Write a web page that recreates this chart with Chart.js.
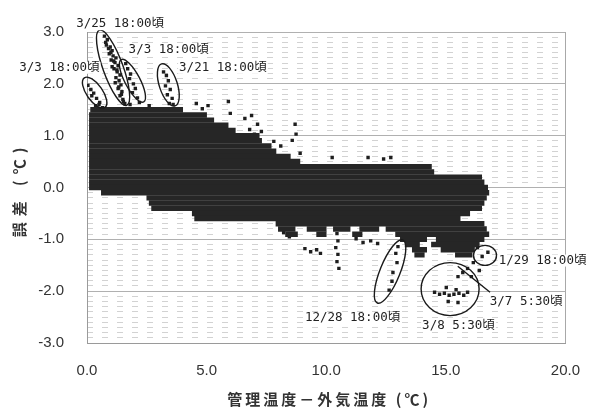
<!DOCTYPE html>
<html>
<head>
<meta charset="utf-8">
<script src="https://cdn.jsdelivr.net/npm/chart.js@4/dist/chart.umd.min.js"></script>
<style>
  html, body { margin: 0; padding: 0; background: #fff; }
  #wrap { width: 599px; height: 410px; }
</style>
</head>
<body>
<div id="wrap"><canvas id="c" width="599" height="410"></canvas></div>
<script>
// Tick values
const xTickValues = [0, 5, 10, 15, 20];
const yTickValues = [-3, -2, -1, 0, 1, 2, 3];

// Dense band of readings: one row per 0.1 ℃ error level, spanning [from, to] on the x axis
const bandLevel = [1.5, 1.4, 1.3, 1.2, 1.1, 1.0, 0.9, 0.8, 0.7, 0.6, 0.5, 0.4, 0.3, 0.2, 0.1, 0.0,
  -0.1, -0.2, -0.3, -0.4, -0.5, -0.6, -0.7,
  -0.8, -0.8, -0.8, -0.8, -0.8,
  -0.9, -0.9, -0.9, -0.9,
  -1.0, -1.0, -1.1, -1.1, -1.2, -1.2, -1.3, -1.3];
const bandFrom = [0.15, 0.1, 0.1, 0.1, 0.1, 0.1, 0.1, 0.1, 0.1, 0.1, 0.1, 0.1, 0.1, 0.1, 0.1, 0.1,
  0.6, 2.5, 2.6, 2.7, 4.4, 4.5, 7.9,
  8.0, 9.2, 10.3, 11.4, 12.5,
  8.3, 9.6, 11.1, 12.9,
  13.1, 14.6, 13.3, 14.4, 13.6, 14.8, 13.7, 15.4];
const bandTo = [4.0, 5.0, 5.3, 5.9, 6.2, 7.2, 7.3, 7.7, 7.9, 8.5, 8.9, 14.4, 14.5, 16.5, 16.6, 16.75,
  16.8, 16.7, 16.6, 16.5, 16.0, 15.6, 16.6,
  8.7, 10.0, 11.0, 12.2, 16.7,
  8.8, 10.0, 11.5, 16.8,
  14.2, 16.6, 13.9, 16.4, 14.2, 16.2, 14.1, 16.1];

// Isolated readings outside the band
const outX = [
  0.73, 0.85, 0.81, 0.97, 1.05, 0.93, 1.09, 1.21, 1.01, 1.17, 1.30, 1.13, 1.26, 1.38, 1.21, 1.34, 1.42, 1.30, 1.46, 1.38, 1.50, 1.58,
  0.78, 0.90, 1.00, 1.12, 1.05, 1.25, 1.18, 1.33, 1.44, 1.52,
  1.62, 1.70, 1.82, 1.78, 1.94, 2.02, 1.90, 2.11, 2.19,
  0.04, 0.16, 0.28, 0.20, 0.40, 0.53, 0.36, 0.65,
  3.20, 3.32, 3.40, 3.28, 3.48, 3.36, 3.56, 3.44,
  0.5, 1.8, 2.6, 3.6,
  4.57, 4.82, 5.06, 5.91, 5.99, 6.60, 6.88, 7.13, 6.80, 7.00, 7.29, 8.70, 8.74, 8.58, 8.91, 7.81, 8.10,
  10.25, 11.75, 12.4, 12.7,
  10.45, 10.49, 10.40, 10.49, 10.45, 10.53,
  8.22, 8.46, 9.11, 9.35, 9.60, 9.76, 11.25, 11.54, 11.86, 12.15,
  13.00, 12.91, 12.96, 12.79, 12.75, 12.63,
  14.53, 14.74, 14.94, 15.14, 15.34, 15.55, 15.75, 15.91, 15.43, 15.10, 15.51, 15.02,
  16.32, 16.52, 16.76, 16.15, 15.91, 15.71, 16.07, 15.51, 16.40
];
const outY = [
  2.92, 2.85, 2.75, 2.71, 2.64, 2.58, 2.54, 2.50, 2.46, 2.41, 2.35, 2.29, 2.23, 2.17, 2.12, 2.06, 1.98, 1.91, 1.85, 1.77, 1.70, 1.62,
  2.80, 2.68, 2.61, 2.44, 2.33, 2.27, 2.02, 1.94, 1.80, 1.66,
  2.39, 2.29, 2.19, 2.10, 2.00, 1.91, 1.83, 1.73, 1.64,
  1.97, 1.89, 1.82, 1.77, 1.72, 1.64, 1.58, 1.54,
  2.23, 2.16, 2.06, 1.96, 1.89, 1.79, 1.72, 1.62,
  1.6, 1.6, 1.58, 1.6,
  1.62, 1.52, 1.58, 1.66, 1.43, 1.33, 1.39, 1.22, 1.12, 1.03, 1.08, 1.22, 1.03, 0.91, 0.66, 0.89, 0.80,
  0.58, 0.58, 0.55, 0.58,
  -0.89, -1.03, -1.16, -1.29, -1.43, -1.56,
  -0.87, -0.95, -1.18, -1.24, -1.20, -1.27, -0.99, -1.06, -1.03, -1.08,
  -1.14, -1.27, -1.45, -1.64, -1.81, -1.98,
  -2.02, -2.06, -2.04, -2.08, -2.06, -2.04, -2.08, -2.02, -1.97, -2.20, -2.22, -1.93,
  -1.16, -1.33, -1.25, -1.45, -1.56, -1.64, -1.72, -1.72, -1.60
];

// Callout texts and where they sit (data units, left edge / vertical middle)
const noteTexts = ['3/25 18:00頃', '3/3 18:00頃', '3/3 18:00頃', '3/21 18:00頃',
  '1/29 18:00頃', '3/7 5:30頃', '3/8 5:30頃', '12/28 18:00頃'];
const noteX = [-0.45, 1.74, -2.83, 3.85, 17.21, 16.84, 14.01, 9.11];
const noteY = [3.15, 2.65, 2.31, 2.31, -1.41, -2.21, -2.67, -2.52];

// Ellipses circling the events: centre in data units, radii in pixels, rotation in degrees
const ellipseMarks = [
  { x: 0.32, y: 1.83, rx: 18, ry: 8, rot: 55 },
  { x: 1.09, y: 2.31, rx: 40, ry: 10, rot: 70 },
  { x: 1.90, y: 2.06, rx: 24, ry: 7.5, rot: 62 },
  { x: 3.40, y: 1.98, rx: 22, ry: 9, rot: 72 },
  { x: 12.67, y: -1.62, rx: 34, ry: 10, rot: 112 },
  { x: 15.18, y: -1.96, rx: 29, ry: 26.5, rot: 0 },
  { x: 16.64, y: -1.31, rx: 11.5, ry: 10, rot: 0 }
];
// Leader from the 3/7 callout into the circle
const leader = { x1: 16.85, y1: -2.02, x2: 15.5, y2: -1.52 };

const bandData = bandLevel.map((lv, i) => ({ x: [bandFrom[i], bandTo[i]], y: lv }));
const outData = outX.map((x, i) => ({ x: x, y: outY[i] }));

const TICK_FONT = { family: '"Liberation Sans", Arial, sans-serif', size: 15 };
const TEXT_COLOR = '#333';

const annotate = {
  id: 'annotate',
  afterDraw(chart) {
    const ctx = chart.ctx, xs = chart.scales.x, ys = chart.scales.y, area = chart.chartArea;
    ctx.save();
    ctx.strokeStyle = '#1a1a1a';
    ctx.lineWidth = 1.4;
    ellipseMarks.forEach(e => {
      ctx.beginPath();
      ctx.ellipse(xs.getPixelForValue(e.x), ys.getPixelForValue(e.y), e.rx, e.ry,
        e.rot * Math.PI / 180, 0, Math.PI * 2);
      ctx.stroke();
    });
    ctx.beginPath();
    ctx.moveTo(xs.getPixelForValue(leader.x1), ys.getPixelForValue(leader.y1));
    ctx.lineTo(xs.getPixelForValue(leader.x2), ys.getPixelForValue(leader.y2));
    ctx.stroke();

    ctx.font = '12.5px "DejaVu Sans Mono", "Noto Sans CJK JP", monospace';
    ctx.textBaseline = 'middle';
    ctx.textAlign = 'left';
    noteTexts.forEach((t, i) => {
      const px = xs.getPixelForValue(noteX[i]), py = ys.getPixelForValue(noteY[i]);
      const w = ctx.measureText(t).width;
      ctx.fillStyle = '#fff';
      ctx.fillRect(px - 1, py - 6, w + 2, 12);
      ctx.fillStyle = '#222';
      ctx.fillText(t, px, py);
    });

    // axis titles
    ctx.fillStyle = TEXT_COLOR;
    ctx.font = 'bold 15px "Noto Sans CJK JP", sans-serif';
    ctx.textAlign = 'center';
    ctx.letterSpacing = '3px';
    ctx.fillText('管理温度－外気温度 (℃)', (area.left + area.right) / 2 + 3, 399);
    ctx.save();
    ctx.translate(19, (area.top + area.bottom) / 2 + 2);
    ctx.rotate(-Math.PI / 2);
    ctx.letterSpacing = '6px';
    ctx.fillText('誤差 (℃)', 0, 0);
    ctx.restore();
    ctx.restore();
  }
};

new Chart(document.getElementById('c'), {
  type: 'scatter',
  data: {
    datasets: [
      {
        type: 'bar',
        indexAxis: 'y',
        data: bandData,
        backgroundColor: '#262626',
        borderWidth: 0,
        barThickness: 4.8,
        grouped: false,
        xAxisID: 'x',
        yAxisID: 'y'
      },
      {
        type: 'scatter',
        data: outData,
        pointStyle: 'rect',
        pointRadius: 2.4,
        backgroundColor: '#1e1e1e',
        borderWidth: 0,
        xAxisID: 'x',
        yAxisID: 'y'
      }
    ]
  },
  options: {
    responsive: false,
    animation: false,
    events: [],
    devicePixelRatio: 1,
    layout: { padding: { top: 30, right: 18, left: 0, bottom: 0 } },
    plugins: { legend: { display: false }, tooltip: { enabled: false } },
    scales: {
      x: {
        type: 'linear',
        min: 0, max: 20,
        offset: false,
        afterBuildTicks: s => { s.ticks = xTickValues.map(v => ({ value: v })); },
        afterFit: s => { s.height = 67; },
        ticks: { font: TICK_FONT, color: TEXT_COLOR, padding: 19, maxRotation: 0,
          callback: v => Number(v).toFixed(1) },
        grid: { drawTicks: false, offset: false,
          color: c => (c.tick && c.tick.value === 20) ? '#a8a8a8' : 'rgba(0,0,0,0)' },
        border: { color: '#9a9a9a' }
      },
      y: {
        type: 'linear',
        min: -3, max: 3,
        offset: false,
        afterBuildTicks: s => { s.ticks = yTickValues.map(v => ({ value: v })); },
        afterFit: s => { s.width = 87; },
        ticks: { font: TICK_FONT, color: TEXT_COLOR, padding: 23,
          callback: v => Number(v).toFixed(1) },
        grid: { drawTicks: false, offset: false, color: '#b0b0b0' },
        border: { color: '#9a9a9a' }
      },
      yMinor: {
        type: 'linear',
        position: 'left',
        min: -3, max: 3,
        offset: false,
        ticks: { display: false, stepSize: 0.1 },
        afterFit: s => { s.width = 0; },
        grid: { drawTicks: false, offset: false,
          color: c => {
            const v = c.tick ? c.tick.value : 0;
            return Math.abs(v - Math.round(v)) < 1e-6 ? 'rgba(0,0,0,0)' : '#d2d2d2';
          } },
        border: { display: false, dash: [6, 9] }
      }
    }
  },
  plugins: [annotate]
});
</script>
</body>
</html>
